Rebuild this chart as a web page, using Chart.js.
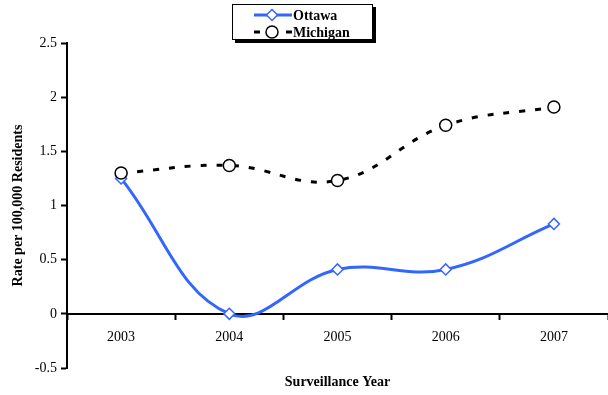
<!DOCTYPE html>
<html>
<head>
<meta charset="utf-8">
<script src="https://cdn.jsdelivr.net/npm/chart.js@4"></script>
<style>
  html, body { margin: 0; padding: 0; background: #fff; }
  #wrap { width: 608px; height: 395px; }
</style>
</head>
<body>
<div id="wrap"><canvas id="myChart" width="608" height="395"></canvas></div>
<script>
const years = ["2003", "2004", "2005", "2006", "2007"];
const ottawa = [1.25, 0.0, 0.41, 0.41, 0.83];
const michigan = [1.30, 1.37, 1.23, 1.74, 1.91];
const yTicks = [-0.5, 0, 0.5, 1, 1.5, 2, 2.5];

const serif = "'Liberation Serif', 'Times New Roman', serif";
const blue = "rgb(51, 102, 255)";

// legend drawn by hand: boxed, two rows, line + marker samples
const boxLegend = {
  id: "boxLegend",
  afterDraw(chart) {
    const ctx = chart.ctx;
    ctx.save();
    ctx.fillStyle = "#000";
    ctx.fillRect(235, 7, 141, 36);
    ctx.fillStyle = "#fff";
    ctx.fillRect(232, 4, 141, 36);
    ctx.strokeStyle = "#000";
    ctx.lineWidth = 1;
    ctx.strokeRect(232.5, 4.5, 140, 35);

    chart.data.datasets.forEach(function(ds, i) {
      const y = i === 0 ? 15 : 32;
      ctx.strokeStyle = ds.borderColor;
      ctx.lineWidth = 3;
      ctx.setLineDash(ds.borderDash || []);
      ctx.beginPath();
      ctx.moveTo(254, y);
      ctx.lineTo(292, y);
      ctx.stroke();
      ctx.setLineDash([]);
      ctx.fillStyle = "#fff";
      ctx.strokeStyle = ds.pointBorderColor;
      ctx.lineWidth = 1.5;
      ctx.beginPath();
      if (ds.pointStyle === "circle") {
        ctx.arc(272, y, 6, 0, Math.PI * 2);
      } else {
        ctx.moveTo(272, y - 5.5);
        ctx.lineTo(277.5, y);
        ctx.lineTo(272, y + 5.5);
        ctx.lineTo(266.5, y);
        ctx.closePath();
      }
      ctx.fill();
      ctx.stroke();
      ctx.fillStyle = "#000";
      ctx.font = "bold 14px " + serif;
      ctx.textBaseline = "middle";
      ctx.textAlign = "left";
      ctx.fillText(ds.label, 293, y + 1);
    });
    ctx.restore();
  }
};

const data = {
  labels: years,
  datasets: [{
    label: "Ottawa",
    data: ottawa,
    borderColor: blue,
    borderWidth: 3,
    tension: 0.4,
    pointStyle: "rectRot",
    pointRadius: 5.5,
    pointBackgroundColor: "#fff",
    pointBorderColor: blue,
    pointBorderWidth: 1.5,
    order: 1
  }, {
    label: "Michigan",
    data: michigan,
    borderColor: "#000",
    borderWidth: 3,
    borderDash: [6, 10],
    tension: 0.4,
    pointStyle: "circle",
    pointRadius: 6,
    pointBackgroundColor: "#fff",
    pointBorderColor: "#000",
    pointBorderWidth: 1.5,
    order: 0
  }]
};

const config = {
  type: "line",
  data: data,
  options: {
    responsive: false,
    animation: false,
    layout: { autoPadding: false, padding: { top: 43, left: 6, right: 0, bottom: 0 } },
    plugins: {
      legend: { display: false },
      tooltip: { enabled: false }
    },
    scales: {
      x: {
        type: "category",
        position: { y: 0 },
        offset: true,
        grid: { drawOnChartArea: false, offset: true, tickLength: 5, tickColor: "#000", tickWidth: 2 },
        border: { color: "#000", width: 2 },
        ticks: { color: "#000", font: { family: serif, size: 14 }, padding: 10, maxRotation: 0 },
        afterFit: function(s) { s.height = 0; }
      },
      x2: {
        type: "category",
        labels: years,
        position: "bottom",
        grid: { display: false },
        border: { display: false },
        ticks: { display: false },
        title: { display: true, text: "Surveillance Year", color: "#000",
                 font: { family: serif, size: 14, weight: "bold" }, padding: { top: 0, bottom: 4 } },
        afterFit: function(s) { s.height = 27; }
      },
      y: {
        min: yTicks[0],
        max: yTicks[yTicks.length - 1],
        afterBuildTicks: function(s) { s.ticks = yTicks.map(v => ({ value: v })); },
        ticks: { color: "#000", font: { family: serif, size: 14 }, padding: 4,
                 callback: v => String(v) },
        grid: { drawOnChartArea: false, tickLength: 6, tickColor: "#000", tickWidth: 2 },
        border: { color: "#000", width: 2 },
        title: { display: true, text: "Rate per 100,000 Residents", color: "#000",
                 font: { family: serif, size: 14, weight: "bold" }, padding: { top: 4, bottom: 0 } },
        afterFit: function(s) { s.width = 61; }
      }
    }
  },
  plugins: [boxLegend]
};

var myChart = new Chart(
  document.getElementById("myChart"),
  config
);
</script>
</body>
</html>
